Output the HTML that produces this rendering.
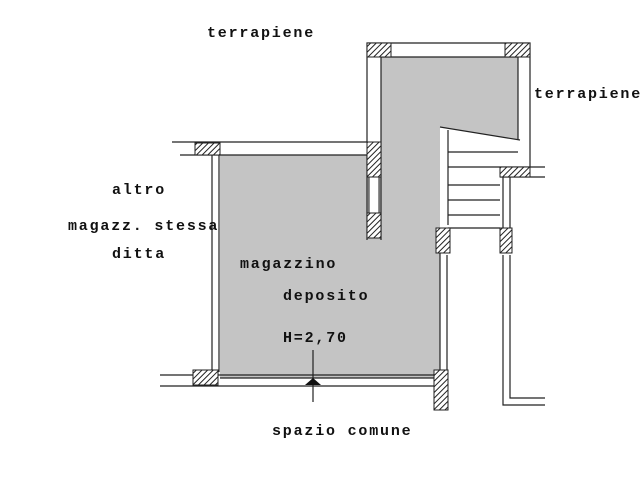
<!DOCTYPE html><html><head><style>body{margin:0;background:#fff}svg{display:block}text{font-family:"Liberation Mono",monospace;font-weight:bold;font-size:15px;letter-spacing:1.8px;fill:#111}</style></head><body>
<svg width="640" height="480" viewBox="0 0 640 480" xmlns="http://www.w3.org/2000/svg">
<defs><pattern id="h" width="4" height="4" patternUnits="userSpaceOnUse" patternTransform="rotate(45)"><rect width="4" height="4" fill="#fff"/><line x1="0" y1="0" x2="0" y2="4" stroke="#222" stroke-width="2"/></pattern></defs>
<polygon points="220,155 367,155 367,142 381,142 381,57 518,57 518,140 440,127 440,378 220,378" fill="#c4c4c4"/>
<g stroke="#222" fill="none" stroke-width="1.2">
<polyline points="172,142 367,142 367,43 530,43 530,167"/>
<polyline points="180,155 367,155"/>
<polyline points="381,57 518,57 518,140"/>
<line x1="381" y1="57" x2="381" y2="240"/>
<line x1="367" y1="155" x2="367" y2="240"/>
<line x1="212" y1="150" x2="212" y2="372"/><line x1="219" y1="155" x2="219" y2="372"/>
<line x1="160" y1="375" x2="440" y2="375"/><line x1="160" y1="386" x2="440" y2="386"/>
<line x1="220" y1="378" x2="440" y2="378"/>
<line x1="440" y1="127" x2="520" y2="140"/>
<line x1="448" y1="130" x2="448" y2="225"/>
<line x1="448" y1="152" x2="518" y2="152"/>
<line x1="448" y1="167" x2="545" y2="167"/><line x1="500" y1="177" x2="545" y2="177"/>
<line x1="448" y1="185" x2="500" y2="185"/><line x1="448" y1="200" x2="500" y2="200"/><line x1="448" y1="215" x2="500" y2="215"/><line x1="448" y1="228" x2="500" y2="228"/>
<line x1="440" y1="250" x2="440" y2="405"/><line x1="447" y1="255" x2="447" y2="405"/>
<line x1="503" y1="177" x2="503" y2="250"/><line x1="510" y1="177" x2="510" y2="250"/>
<polyline points="503,255 503,405 545,405"/><polyline points="510,255 510,398 545,398"/>
<line x1="313" y1="350" x2="313" y2="402"/>
</g>
<g fill="url(#h)" stroke="#222">
<rect x="195" y="143" width="25" height="12"/><rect x="367" y="43" width="24" height="14"/><rect x="505" y="43" width="25" height="14"/>
<rect x="367" y="142" width="14" height="35"/><rect x="367" y="213" width="14" height="25"/>
<rect x="436" y="228" width="14" height="25"/><rect x="500" y="167" width="30" height="10"/><rect x="500" y="228" width="12" height="25"/>
<rect x="193" y="370" width="25" height="15"/><rect x="434" y="370" width="14" height="40"/>
</g>
<rect x="369" y="177" width="10" height="36" fill="#fff" stroke="#222"/>
<polygon points="305,385 313,378 321,385" fill="#111"/>
<text x="207" y="37">terrapiene</text><text x="534" y="98">terrapiene</text>
<text x="112" y="194">altro</text><text x="68" y="230">magazz. stessa</text><text x="112" y="258">ditta</text>
<text x="240" y="268">magazzino</text><text x="283" y="300">deposito</text><text x="283" y="342">H=2,70</text>
<text x="272" y="435">spazio  comune</text>
</svg></body></html>
